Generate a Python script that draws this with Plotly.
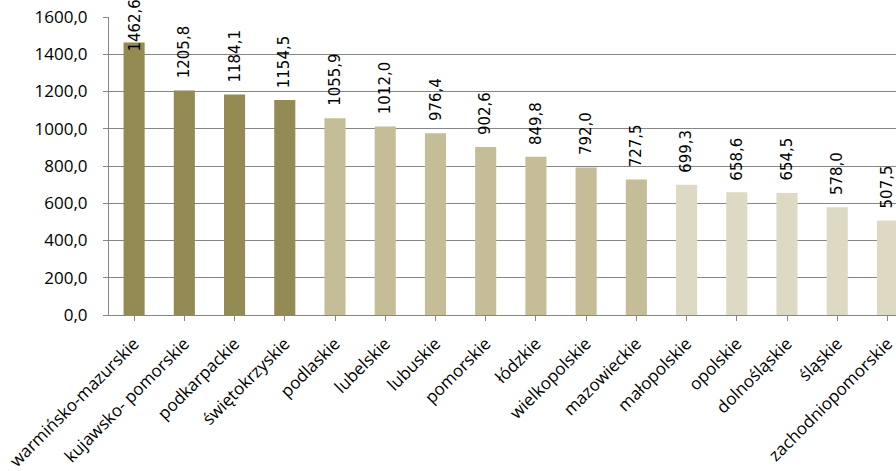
import plotly.graph_objects as go

regions = ["warmińsko-mazurskie", "kujawsko- pomorskie", "podkarpackie", "świętokrzyskie",
           "podlaskie", "lubelskie", "lubuskie", "pomorskie", "łódzkie", "wielkopolskie",
           "mazowieckie", "małopolskie", "opolskie", "dolnośląskie", "śląskie",
           "zachodniopomorskie"]
values = [1462.6, 1205.8, 1184.1, 1154.5, 1055.9, 1012.0, 976.4, 902.6, 849.8, 792.0,
          727.5, 699.3, 658.6, 654.5, 578.0, 507.5]
groups = [0, 0, 0, 0, 1, 1, 1, 1, 1, 1, 1, 2, 2, 2, 2, 2]
palette = ["#948A54", "#C4BD97", "#DDD9C3"]
y_ticks = [0, 200, 400, 600, 800, 1000, 1200, 1400, 1600]

colors = [palette[g] for g in groups]
fmt = lambda v: f"{v:.1f}".replace(".", ",")

fig = go.Figure()
fig.add_trace(go.Bar(x=list(range(len(regions))), y=values, marker_color=colors,
                     marker_line_width=0, width=0.42, showlegend=False))

lab_font = dict(family="DejaVu Sans", size=15, color="#000")
for i, v in enumerate(values):
    if v > 1400:
        fig.add_annotation(x=i, y=1, yref="paper", text=fmt(v), textangle=-90,
                           showarrow=False, yanchor="top", yshift=20, font=lab_font)
    else:
        fig.add_annotation(x=i, y=v, text=fmt(v), textangle=-90, showarrow=False,
                           yanchor="bottom", yshift=10, font=lab_font)

fig.update_layout(
    width=896, height=471,
    margin=dict(l=109, r=0, t=17, b=156),
    paper_bgcolor="white", plot_bgcolor="white",
    separators=",.",
)
fig.update_xaxes(
    range=[-0.5, 15.17], tickmode="array", tickvals=list(range(len(regions))),
    ticktext=regions, tickangle=-45, tickson="boundaries", ticks="outside",
    ticklen=5, tickcolor="#868686", showline=True, linecolor="#868686", linewidth=1,
    showgrid=False, ticklabelstandoff=6, ticklabeloverflow="allow",
    tickfont=dict(family="Open Sans", size=17, color="#000"),
)
fig.update_yaxes(
    range=[0, 1600], tickvals=y_ticks, ticktext=[fmt(t) for t in y_ticks],
    ticks="outside", ticklen=5, tickcolor="#868686", showline=True,
    linecolor="#868686", linewidth=1, showgrid=True, gridcolor="#868686",
    gridwidth=1, zeroline=False, ticklabelstandoff=12,
    tickfont=dict(family="Open Sans", size=17, color="#000"),
)

fig.write_html("out.html")
